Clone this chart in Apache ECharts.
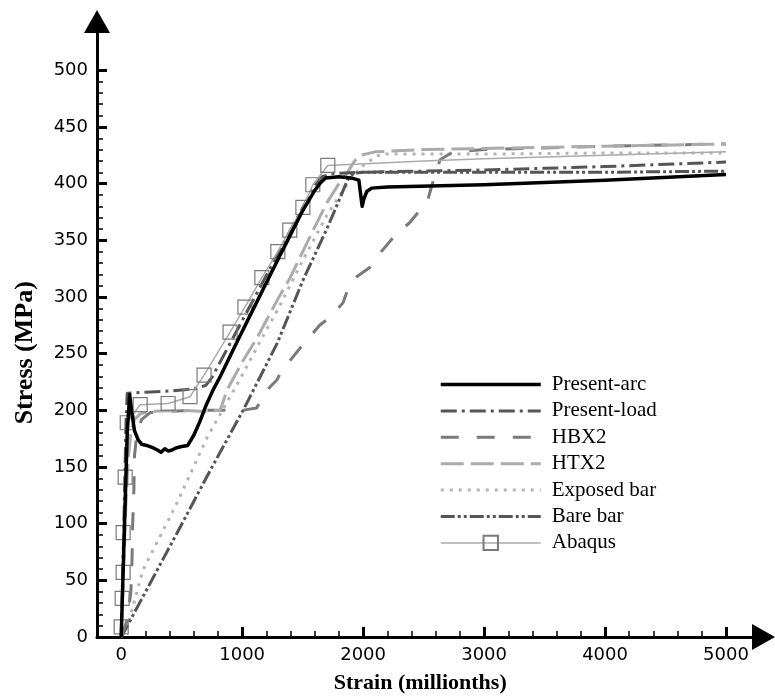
<!DOCTYPE html>
<html>
<head>
<meta charset="utf-8">
<script src="https://cdn.jsdelivr.net/npm/echarts@6/dist/echarts.min.js"></script>
<style>
html,body{margin:0;padding:0;background:#fff;}
#chart{width:775px;height:700px;}
</style>
</head>
<body>
<div id="chart"></div>
<script>
// ---- Data (strain in millionths, stress in MPa) ----
const seriesNames = ['Present-arc', 'Present-load', 'HBX2', 'HTX2', 'Exposed bar', 'Bare bar', 'Abaqus'];

const presentArc = [[0,0],[25,90],[50,180],[70,214],[85,200],[110,182],[140,174],[170,170],[210,169],[260,167],[300,165],[330,163],[360,166],[390,164],[420,165],[460,167],[500,168],[550,169],[600,178],[650,190],[700,204],[760,218],[820,230],[960,261],[1100,291],[1207,314],[1300,334],[1400,355],[1500,376],[1600,394],[1650,401],[1690,405],[1800,406],[1900,405],[1965,403],[1992,380],[2005,386],[2030,393],[2070,396],[2200,397],[3000,399],[4000,403],[5000,408]];

const presentLoad = [[0,0],[20,90],[40,190],[50,215],[200,216],[400,217],[600,219],[700,222],[750,229],[850,249],[1000,279],[1200,319],[1400,359],[1600,398],[1660,406],[1750,409],[2000,410],[2500,411],[3000,412],[4000,415],[5000,419]];

const hbx2 = [[0,0],[50,15],[80,40],[90,70],[95,100],[105,130],[110,160],[130,180],[170,192],[240,198],[400,199],[600,200],[800,200],[1000,200],[1120,202],[1160,210],[1207,218],[1289,227],[1340,238],[1397,244],[1480,255],[1562,265],[1640,275],[1702,280],[1770,287],[1835,295],[1890,312],[1950,318],[2055,326],[2150,340],[2277,356],[2380,365],[2490,379],[2528,383],[2570,399],[2636,421],[2744,428],[3000,430],[4000,433],[5000,435]];

const htx2 = [[0,0],[20,60],[40,120],[60,160],[80,180],[110,192],[160,197],[250,199],[500,200],[700,199],[818,200],[876,218],[1008,244],[1124,264],[1289,297],[1397,317],[1560,353],[1700,383],[1800,400],[1865,409],[1930,420],[1980,425],[2100,428],[2500,430],[3000,431],[4000,433],[5000,435]];

const exposedBar = [[0,0],[50,9],[180,59],[460,118],[710,176],[980,227],[1170,265],[1290,288],[1500,332],[1700,372],[1810,390],[1890,403],[1990,415],[2080,422],[2150,426],[3000,426],[4000,427],[5000,427]];

const bareBar = [[0,0],[16,3],[463,92],[736,147],[1008,200],[1289,259],[1504,315],[1700,360],[1800,385],[1870,403],[1920,409],[2000,410],[3000,410],[4000,410],[5000,411]];

const abaqusMarkers = [[0,9],[8,34],[16,57],[16,92],[33,141],[50,189],[157,205],[388,206],[569,212],[685,231],[900,269],[1023,291],[1163,317],[1295,340],[1394,359],[1502,379],[1584,399],[1708,416]];
const abaqusTail = [[2500,420],[3000,422],[4000,425],[5000,428]];

// ---- Axis ticks / labels ----
const xMajorTicks = [0,1000,2000,3000,4000,5000];
const xMinorTicks = [200,400,600,800,1200,1400,1600,1800,2200,2400,2600,2800,3200,3400,3600,3800,4200,4400,4600,4800];
const yMajorTicks = [0,50,100,150,200,250,300,350,400,450,500];
const yMinorTicks = [10,20,30,40,60,70,80,90,110,120,130,140,160,170,180,190,210,220,230,240,260,270,280,290,310,320,330,340,360,370,380,390,410,420,430,440,460,470,480,490];

const X_MIN = -200, X_MAX = 5310, Y_MIN = 0, Y_MAX = 543;

// ---- Styles ----
const styles = {
  'Present-arc':  {color: '#000000', width: 3.5, dash: 'solid', z: 8},
  'Present-load': {color: '#555555', width: 3, dash: [16, 5, 3, 5], z: 6},
  'HBX2':         {color: '#7a7a7a', width: 3, dash: [18, 18], z: 4},
  'HTX2':         {color: '#ababab', width: 3, dash: [23, 7], z: 5},
  'Exposed bar':  {color: '#b3b3b3', width: 3, dash: [3, 6], z: 2},
  'Bare bar':     {color: '#555555', width: 3, dash: [14, 3, 3, 3, 3, 3], z: 3},
  'Abaqus':       {color: '#aaaaaa', width: 1.5, dash: 'solid', z: 7}
};

const abaqusData = abaqusMarkers.map(p => ({value: p}))
  .concat(abaqusTail.map(p => ({value: p, symbol: 'none'})));

const chart = echarts.init(document.getElementById('chart'), null, {renderer: 'canvas'});

const sansFont = 'DejaVu Sans';
const serifFont = 'Liberation Serif';
const plain = v => String(v);

function lineSeries(name, data) {
  const s = styles[name];
  return {
    name: name, type: 'line', data: data, xAxisIndex: 0, yAxisIndex: 0,
    symbol: 'none', showSymbol: false, smooth: false, z: s.z,
    lineStyle: {color: s.color, width: s.width, type: s.dash, cap: 'butt', join: 'round'},
    itemStyle: {color: 'rgba(0,0,0,0)', borderWidth: 0},
    emphasis: {disabled: true}
  };
}

const legendData = seriesNames.map(n => ({
  name: n,
  lineStyle: {color: styles[n].color, width: styles[n].width, type: styles[n].dash, cap: 'butt'}
}));

const option = {
  animation: false,
  backgroundColor: '#fff',
  grid: {left: 97, right: 11.5, top: 21.5, bottom: 63, containLabel: false},
  xAxis: [
    {
      type: 'value', min: X_MIN, max: X_MAX, position: 'bottom',
      axisLine: {show: true, onZero: false, symbol: ['none', 'triangle'], symbolSize: [26, 23],
        lineStyle: {color: '#000', width: 3}},
      axisTick: {show: true, inside: true, length: 10, customValues: xMajorTicks,
        lineStyle: {color: '#000', width: 3}},
      axisLabel: {show: true, customValues: xMajorTicks, formatter: plain, margin: 9, color: '#000',
        fontFamily: sansFont, fontSize: 18},
      splitLine: {show: false},
      name: 'Strain (millionths)', nameLocation: 'middle', nameGap: 35,
      nameTextStyle: {fontFamily: serifFont, fontWeight: 'bold', fontSize: 22, color: '#000', padding: [0, 20, 0, 0]}
    },
    {
      type: 'value', min: X_MIN, max: X_MAX, position: 'bottom',
      axisLine: {show: false, onZero: false},
      axisTick: {show: true, inside: true, length: 6, customValues: xMinorTicks,
        lineStyle: {color: '#000', width: 1.5}},
      axisLabel: {show: false},
      splitLine: {show: false}
    }
  ],
  yAxis: [
    {
      type: 'value', min: Y_MIN, max: Y_MAX, position: 'left',
      axisLine: {show: true, onZero: false, symbol: ['none', 'triangle'], symbolSize: [26, 23],
        lineStyle: {color: '#000', width: 3}},
      axisTick: {show: true, inside: true, length: 10, customValues: yMajorTicks,
        lineStyle: {color: '#000', width: 3}},
      axisLabel: {show: true, customValues: yMajorTicks, formatter: plain, margin: 9, color: '#000',
        fontFamily: sansFont, fontSize: 18},
      splitLine: {show: false},
      name: 'Stress (MPa)', nameLocation: 'middle', nameGap: 59,
      nameTextStyle: {fontFamily: serifFont, fontWeight: 'bold', fontSize: 26, color: '#000', padding: [0, 47, 0, 0]}
    },
    {
      type: 'value', min: Y_MIN, max: Y_MAX, position: 'left',
      axisLine: {show: false, onZero: false},
      axisTick: {show: true, inside: true, length: 6, customValues: yMinorTicks,
        lineStyle: {color: '#000', width: 1.5}},
      axisLabel: {show: false},
      splitLine: {show: false}
    }
  ],
  legend: {
    show: true, orient: 'vertical', left: 434, top: 369,
    itemWidth: 100, itemHeight: 18, itemGap: 5.4,
    data: legendData,
    lineStyle: {width: 'inherit'},
    textStyle: {fontFamily: serifFont, fontSize: 21, color: '#000', padding: [0, 0, 0, 6]},
    selectedMode: false
  },
  series: [
    lineSeries('Exposed bar', exposedBar),
    lineSeries('Bare bar', bareBar),
    lineSeries('HBX2', hbx2),
    lineSeries('HTX2', htx2),
    lineSeries('Present-load', presentLoad),
    {
      name: 'Abaqus', type: 'line', data: abaqusData, xAxisIndex: 0, yAxisIndex: 0,
      symbol: 'rect', symbolSize: 14, showSymbol: true, z: styles['Abaqus'].z,
      lineStyle: {color: styles['Abaqus'].color, width: styles['Abaqus'].width},
      itemStyle: {color: 'rgba(255,255,255,0)', borderColor: '#7a7a7a', borderWidth: 1.2},
      emphasis: {disabled: true}
    },
    lineSeries('Present-arc', presentArc)
  ]
};

chart.setOption(option);
</script>
</body>
</html>
